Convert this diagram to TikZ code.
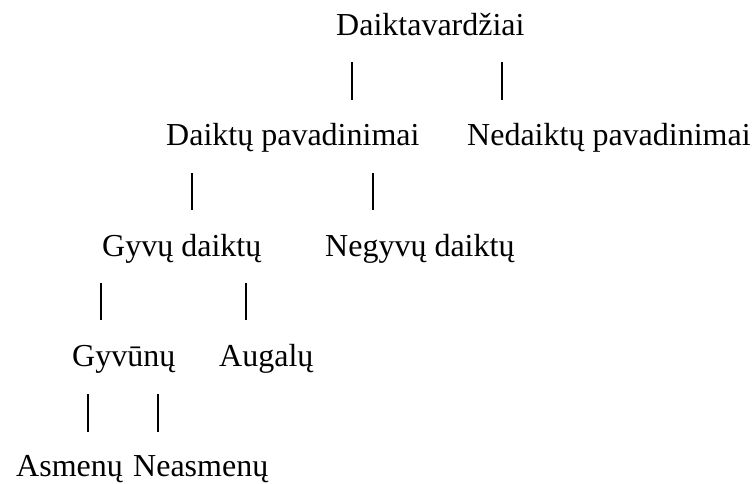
\documentclass[tikz,border=0pt]{standalone}
\usepackage{fontspec}
\setmainfont{Liberation Serif}
\begin{document}
\begin{tikzpicture}[x=1pt,y=-1pt,
  term/.style={anchor=base west,inner sep=0pt,font=\fontsize{32}{38}\selectfont},
  tick/.style={line width=1.8pt,black}]
\useasboundingbox (0,0) rectangle (752,484);

% terms of the classification, one row per level
\node[term] (root) at (336,36) {Daiktavardžiai};
\node[term] (dp)   at (166,146) {Daiktų pavadinimai};
\node[term] (ndp)  at (467,146) {Nedaiktų pavadinimai};
\node[term] (gd)   at (102,256) {Gyvų daiktų};
\node[term] (ngd)  at (325,256) {Negyvų daiktų};
\node[term] (gv)   at (72,366) {Gyvūnų};
\node[term] (au)   at (219,366) {Augalų};
\node[term] (as)   at (16,476) {Asmenų};
\node[term] (nas)  at (133,476) {Neasmenų};

% short vertical ticks between the levels
\coordinate (t1a) at (352,62);  \coordinate (b1a) at (352,100);
\coordinate (t1b) at (502,62);  \coordinate (b1b) at (502,100);
\coordinate (t2a) at (192,173); \coordinate (b2a) at (192,210);
\coordinate (t2b) at (373,173); \coordinate (b2b) at (373,210);
\coordinate (t3a) at (101,283); \coordinate (b3a) at (101,320);
\coordinate (t3b) at (246,283); \coordinate (b3b) at (246,320);
\coordinate (t4a) at (88,394);  \coordinate (b4a) at (88,432);
\coordinate (t4b) at (158,394); \coordinate (b4b) at (158,432);

\foreach \r in {1,2,3,4}{
  \draw[tick] (t\r a) -- (b\r a);
  \draw[tick] (t\r b) -- (b\r b);
}
\end{tikzpicture}
\end{document}
